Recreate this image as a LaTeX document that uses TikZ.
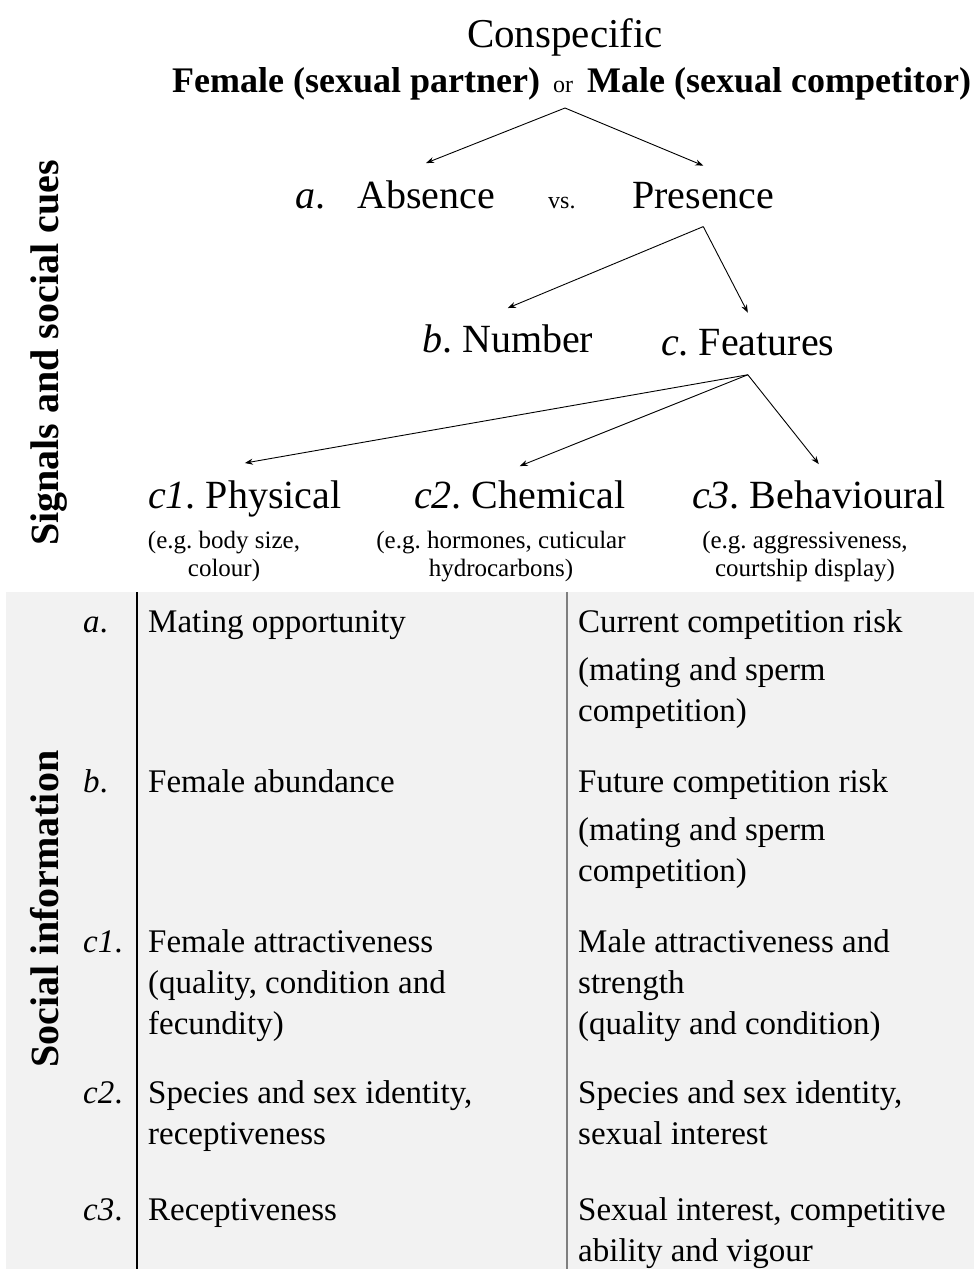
\documentclass[tikz,border=0pt]{standalone}
\usepackage{fontspec}
\setmainfont{Liberation Serif}
\usetikzlibrary{arrows.meta}
\definecolor{tblgray}{HTML}{F2F2F2}
\definecolor{linegray}{HTML}{7F7F7F}
\newcommand{\fsz}[2]{\fontsize{#1}{#2}\selectfont}
\newcommand{\cellpar}[1]{\parbox[t]{395pt}{\raggedright #1}}
\newcommand{\subpar}[1]{\parbox[t]{260pt}{\centering #1}}
\frenchspacing
\begin{document}
\frenchspacing
\begin{tikzpicture}[x=1pt,y=-1pt,
  lbl/.style={inner sep=0pt, anchor=base west},
  big/.style={font=\fsz{40}{48}},
  arr/.style={draw=black, line width=0.9pt, -{Stealth[length=8pt,width=6pt]}},
  sublbl/.style={font=\fsz{25}{28}, inner sep=0pt, anchor=base},
  cell/.style={font=\fsz{33}{41}, inner sep=0pt, anchor=base west},
  side/.style={font=\bfseries\fsz{40}{48}, inner sep=0pt, anchor=base, rotate=90}]

\useasboundingbox (0,0) rectangle (974,1269);

% table background and rules
\fill[tblgray] (6,592) rectangle (974,1269);
\draw[line width=1.2pt] (137,592) -- (137,1269);
\draw[line width=1.2pt, linegray] (567,592) -- (567,1269);

% header
\node[inner sep=0pt, anchor=base, font=\fsz{41}{48}] (consp) at (565,47) {Conspecific};
\node[lbl, font=\bfseries\fsz{36}{42}] (female) at (172,92) {Female (sexual partner)};
\node[lbl, font=\fsz{24}{28}] (orw) at (553,92) {or};
\node[lbl, font=\bfseries\fsz{36}{42}] (male) at (587,92) {Male (sexual competitor)};
\coordinate (apexA) at ([yshift=-16pt]orw.base -| consp.base);

% level a
\node[lbl, big] (la) at (295,208) {\textit{a}.};
\node[lbl, big] (absence) at (357,208) {Absence};
\node[lbl, font=\fsz{24}{28}] (vs) at (548,208) {vs.};
\node[lbl, big] (presence) at (632,208) {Presence};
\draw[arr] (apexA) -- ([yshift=17pt]absence.north);
\draw[arr] (apexA) -- ([yshift=16pt]presence.north);

% level b / c
\coordinate (apexB) at ([yshift=-18pt]presence.south);
\node[lbl, big] (number) at (422,352) {\textit{b}. Number};
\node[lbl, big] (features) at (661,355) {\textit{c}. Features};
\draw[arr] (apexB) -- ([yshift=16pt]number.north);
\draw[arr] (apexB) -- ([yshift=16pt]features.north);

% level c1-c3
\coordinate (apexC) at ([yshift=-19pt]features.south);
\node[lbl, big] (phys) at (148,508) {\textit{c1}. Physical};
\node[lbl, big] (chem) at (414,508) {\textit{c2}. Chemical};
\node[lbl, big] (behav) at (692,508) {\textit{c3}. Behavioural};
\draw[arr] (apexC) -- ([yshift=17pt]phys.north);
\draw[arr] (apexC) -- ([yshift=14pt]chem.north);
\draw[arr] (apexC) -- ([yshift=16pt]behav.north);

\node[sublbl] (physsub) at (224,548) {\subpar{(e.g. body size,\\colour)}};
\node[sublbl] (chemsub) at (501,548) {\subpar{(e.g. hormones, cuticular\\hydrocarbons)}};
\node[sublbl] (behavsub) at (805,548) {\subpar{(e.g. aggressiveness,\\courtship display)}};

% side labels
\node[side] (sig) at (58,353) {Signals and social cues};
\node[side] (soc) at (58,909) {Social information};

% table rows
\node[cell] (ra) at (83,632) {\textit{a}.};
\node[cell] (fa) at (148,632) {Mating opportunity};
\node[cell] (ma) at (578,632) {\cellpar{Current competition risk\\[7pt](mating and sperm\\competition)}};

\node[cell] (rb) at (83,792) {\textit{b}.};
\node[cell] (fb) at (148,792) {Female abundance};
\node[cell] (mb) at (578,792) {\cellpar{Future competition risk\\[7pt](mating and sperm\\competition)}};

\node[cell] (rc1) at (83,952) {\textit{c1}.};
\node[cell] (fc1) at (148,952) {\cellpar{Female attractiveness\\(quality, condition and\\fecundity)}};
\node[cell] (mc1) at (578,952) {\cellpar{Male attractiveness and\\strength\\(quality and condition)}};

\node[cell] (rc2) at (83,1103) {\textit{c2}.};
\node[cell] (fc2) at (148,1103) {\cellpar{Species and sex identity,\\receptiveness}};
\node[cell] (mc2) at (578,1103) {\cellpar{Species and sex identity,\\sexual interest}};

\node[cell] (rc3) at (83,1220) {\textit{c3}.};
\node[cell] (fc3) at (148,1220) {Receptiveness};
\node[cell] (mc3) at (578,1220) {\cellpar{Sexual interest, competitive\\ability and vigour}};
\end{tikzpicture}
\end{document}
